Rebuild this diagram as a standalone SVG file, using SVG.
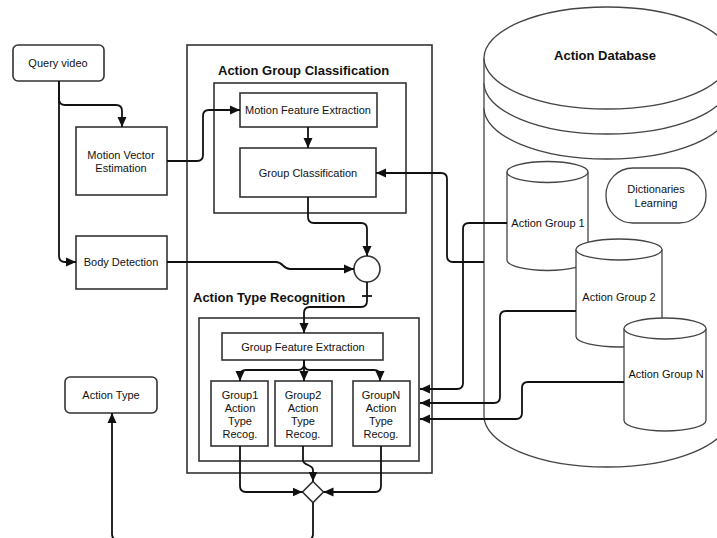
<svg xmlns="http://www.w3.org/2000/svg" width="717" height="538" viewBox="0 0 717 538">
<style>
.box{fill:#fff;stroke:#333;stroke-width:1.6}
.frame{fill:none;stroke:#333;stroke-width:1.6}
.db{fill:#fff;stroke:#444;stroke-width:1.3}
.c{fill:none;stroke:#111;stroke-width:1.8;stroke-linejoin:round}
.t{font-family:"Liberation Sans",Arial,sans-serif;font-size:11px;fill:#111;text-anchor:middle}
.h{font-family:"Liberation Sans",Arial,sans-serif;font-size:13px;font-weight:bold;fill:#111}
</style>
<defs>
<marker id="a" markerUnits="userSpaceOnUse" markerWidth="10" markerHeight="10" viewBox="0 0 10 10" refX="10" refY="5" orient="auto">
<path d="M0,0.5 L10,5 L0,9.5 Z" fill="#111"/>
</marker>
</defs>
<rect width="717" height="538" fill="#fff"/>

<g id="database">
<path class="db" d="M484,58 A123,51 0 0 1 730,58 V416 A123,51 0 0 1 484,416 Z"/>
<path class="db" fill="none" d="M484,58 A123,51 0 0 0 730,58 M484,83 A123,51 0 0 0 730,83 M484,108 A123,51 0 0 0 730,108"/>
<text class="h" x="605" y="60" text-anchor="middle">Action Database</text>
</g>
<g id="dictionaries">
<rect class="db" x="606" y="168" width="100" height="55" rx="27"/>
<text class="t" x="656" y="193">Dictionaries</text>
<text class="t" x="656" y="207">Learning</text>
</g>
<g id="group1-db">
<path class="db" d="M507,172 A40.5,10.5 0 0 1 588,172 V260 A40.5,10.5 0 0 1 507,260 Z"/>
<path class="db" fill="none" d="M507,172 A40.5,10.5 0 0 0 588,172"/>
<text class="t" x="548" y="227">Action Group 1</text>
</g>
<g id="group2-db">
<path class="db" d="M576,249.5 A43,10.5 0 0 1 662,249.5 V336.5 A43,10.5 0 0 1 576,336.5 Z"/>
<path class="db" fill="none" d="M576,249.5 A43,10.5 0 0 0 662,249.5"/>
<text class="t" x="619" y="301">Action Group 2</text>
</g>
<g id="groupN-db">
<path class="db" d="M624,328.5 A41,10.5 0 0 1 706,328.5 V420.5 A41,10.5 0 0 1 624,420.5 Z"/>
<path class="db" fill="none" d="M624,328.5 A41,10.5 0 0 0 706,328.5"/>
<text class="t" x="666" y="378">Action Group N</text>
</g>

<g id="frames">
<rect class="frame" x="187" y="45" width="245" height="428"/>
<text class="h" x="218" y="75">Action Group Classification</text>
<rect class="frame" x="214" y="83" width="192" height="130"/>
<text class="h" x="193" y="302">Action Type Recognition</text>
<rect class="frame" x="199" y="318" width="220" height="143"/>
</g>

<g id="query-video">
<rect class="box" x="13" y="45" width="91" height="36" rx="5"/>
<text class="t" x="58" y="67">Query video</text>
</g>
<g id="motion-vector">
<rect class="box" x="76" y="127" width="91" height="68"/>
<text class="t" x="121" y="159">Motion Vector</text>
<text class="t" x="121" y="172">Estimation</text>
</g>
<g id="body-detection">
<rect class="box" x="76" y="236" width="91" height="53"/>
<text class="t" x="121" y="266">Body Detection</text>
</g>
<g id="motion-feature">
<rect class="box" x="240" y="93" width="137" height="34"/>
<text class="t" x="308" y="114">Motion Feature Extraction</text>
</g>
<g id="group-classification">
<rect class="box" x="240" y="148" width="136" height="49"/>
<text class="t" x="308" y="177">Group Classification</text>
</g>
<g id="join">
<circle class="box" cx="367" cy="269" r="13"/>
</g>
<g id="group-feature">
<rect class="box" x="222" y="333" width="161" height="27"/>
<text class="t" x="303" y="351">Group Feature Extraction</text>
</g>
<g id="group1-recog">
<rect class="box" x="211" y="381" width="57" height="65"/>
<text class="t" x="240" y="399">Group1</text>
<text class="t" x="240" y="412">Action</text>
<text class="t" x="240" y="425">Type</text>
<text class="t" x="240" y="438">Recog.</text>
</g>
<g id="group2-recog">
<rect class="box" x="275" y="381" width="57" height="65"/>
<text class="t" x="303" y="399">Group2</text>
<text class="t" x="303" y="412">Action</text>
<text class="t" x="303" y="425">Type</text>
<text class="t" x="303" y="438">Recog.</text>
</g>
<g id="groupN-recog">
<rect class="box" x="353" y="381" width="57" height="65"/>
<text class="t" x="381" y="399">GroupN</text>
<text class="t" x="381" y="412">Action</text>
<text class="t" x="381" y="425">Type</text>
<text class="t" x="381" y="438">Recog.</text>
</g>
<g id="merge">
<path class="box" d="M313,481.5 L323.5,492 L313,502.5 L302.5,492 Z"/>
</g>
<g id="action-type">
<rect class="box" x="65" y="377" width="92" height="36" rx="5"/>
<text class="t" x="111" y="399">Action Type</text>
</g>

<g id="connectors">
<path class="c" marker-end="url(#a)" d="M59,81 V99 Q59,105 65,105 H116 Q122,105 122,111 V127"/>
<path class="c" marker-end="url(#a)" d="M59,81 V256 Q59,262 65,262 H76"/>
<path class="c" marker-end="url(#a)" d="M167,161 H197 Q203,161 203,155 V116 Q203,110 209,110 H240"/>
<path class="c" marker-end="url(#a)" d="M308,127 V148"/>
<path class="c" marker-end="url(#a)" d="M308,197 V217 Q308,223 314,223 H361 Q367,223 367,229 V256"/>
<path class="c" marker-end="url(#a)" d="M167,262 H276 C283,262 283,269 290,269 H354"/>
<path class="c" marker-end="url(#a)" d="M367,282 V301 Q367,307 361,307 H310 Q304,307 304,313 V333"/>
<path class="c" d="M362,296 H372"/>
<path class="c" marker-end="url(#a)" d="M304,360 V364 Q304,370 298,370 H246 Q240,370 240,376 V381"/>
<path class="c" marker-end="url(#a)" d="M304,360 V364 Q304,370 310,370 H374 Q380,370 380,376 V381"/>
<path class="c" marker-end="url(#a)" d="M304,360 V381"/>
<path class="c" marker-end="url(#a)" d="M240,446 V486 Q240,492 246,492 H302.5"/>
<path class="c" marker-end="url(#a)" d="M381,446 V486 Q381,492 375,492 H323.5"/>
<path class="c" marker-end="url(#a)" d="M303,446 V460 C303,466 313,464 313,470 V481.5"/>
<path class="c" marker-end="url(#a)" d="M313,502.5 V534 Q313,540 307,540 H118 Q112,540 112,534 V413"/>
<path class="c" marker-end="url(#a)" d="M484,262 H453 Q447,262 447,256 V179 Q447,173 441,173 H376"/>
<path class="c" marker-end="url(#a)" d="M507,223 H469 Q463,223 463,229 V383 Q463,389 457,389 H420"/>
<path class="c" marker-end="url(#a)" d="M576,311 H506 Q500,311 500,317 V397 Q500,403 494,403 H420"/>
<path class="c" marker-end="url(#a)" d="M624,382 H528 Q522,382 522,388 V413 Q522,419 516,419 H420"/>
</g>
</svg>
